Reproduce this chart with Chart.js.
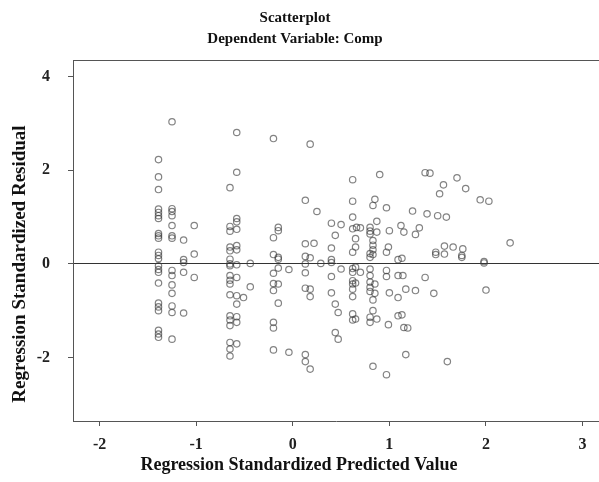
<!DOCTYPE html>
<html>
<head>
<meta charset="utf-8">
<script src="https://cdn.jsdelivr.net/npm/chart.js@4.4.1/dist/chart.umd.min.js"></script>
<style>
  html, body { margin: 0; padding: 0; background: #fff; }
  #wrap { width: 599px; height: 482px; }
</style>
</head>
<body>
<div id="wrap"><canvas id="chart" width="599" height="482"></canvas></div>
<script>
// Regression standardized predicted value (x) and residual (y)
const predicted = [
  -1.39, -1.39, -1.39, -1.39, -1.39, -1.39, -1.39, -1.39, -1.39, -1.39, -1.39, -1.39,
  -1.39, -1.39, -1.39, -1.39, -1.39, -1.39, -1.39, -1.39, -1.39, -1.39, -1.39,
  -1.25, -1.25, -1.25, -1.25, -1.25, -1.25, -1.25, -1.25, -1.25, -1.25, -1.25, -1.25, -1.25, -1.25,
  -1.13, -1.13, -1.13, -1.13, -1.13,
  -1.02, -1.02, -1.02,
  -0.65, -0.65, -0.65, -0.65, -0.65, -0.65, -0.65, -0.65, -0.65, -0.65, -0.65, -0.65,
  -0.65, -0.65, -0.65, -0.65, -0.65, -0.65,
  -0.58, -0.58, -0.58, -0.58, -0.58, -0.58, -0.58, -0.58, -0.58, -0.58, -0.58, -0.58, -0.58, -0.58,
  -0.51, -0.44, -0.44,
  -0.20, -0.20, -0.20, -0.20, -0.20, -0.20, -0.20, -0.20, -0.20,
  -0.15, -0.15, -0.15, -0.15, -0.15, -0.15, -0.15,
  -0.04, -0.04,
  0.13, 0.13, 0.13, 0.13, 0.13, 0.13, 0.13, 0.13,
  0.18, 0.18, 0.18, 0.18, 0.18,
  0.22, 0.25, 0.29,
  0.40, 0.40, 0.40, 0.40, 0.40, 0.40,
  0.44, 0.44, 0.44, 0.47, 0.47, 0.50, 0.50,
  0.62, 0.62, 0.62, 0.62, 0.62, 0.62, 0.62, 0.62, 0.62, 0.62, 0.62, 0.62, 0.62,
  0.65, 0.65, 0.65, 0.65, 0.65, 0.66, 0.70, 0.70,
  0.80, 0.80, 0.80, 0.80, 0.80, 0.80, 0.80, 0.80, 0.80, 0.80, 0.80, 0.80,
  0.83, 0.83, 0.83, 0.83, 0.83, 0.83, 0.83, 0.83,
  0.85, 0.85, 0.85, 0.87, 0.87, 0.87, 0.90,
  0.97, 0.97, 0.97, 0.97, 0.97, 0.99, 0.99, 1.00, 1.00,
  1.09, 1.09, 1.09, 1.09, 1.12, 1.13, 1.13, 1.14, 1.15, 1.15, 1.17, 1.17, 1.19,
  1.24, 1.27, 1.27, 1.31, 1.37, 1.37, 1.39, 1.42, 1.46, 1.48, 1.48, 1.50, 1.52, 1.56,
  1.57, 1.57, 1.59, 1.60, 1.66, 1.70, 1.75, 1.75, 1.76, 1.79, 1.94, 1.98, 1.98, 2.00, 2.03, 2.25
];
const residual = [
  2.23, 1.86, 1.59, 1.17, 1.10, 1.03, 0.97, 0.65, 0.60, 0.55, 0.25, 0.18,
  0.11, -0.04, -0.12, -0.18, -0.41, -0.84, -0.92, -1.00, -1.42, -1.50, -1.57,
  3.04, 1.18, 1.12, 1.03, 0.82, 0.60, 0.55, -0.14, -0.25, -0.45, -0.63, -0.90, -1.04, -1.61,
  0.51, 0.09, 0.03, -0.18, -1.05,
  0.82, 0.21, -0.29,
  1.63, 0.80, 0.70, 0.36, 0.28, 0.10, 0.00, -0.04, -0.25, -0.35, -0.43, -0.66,
  -1.11, -1.20, -1.32, -1.68, -1.82, -1.97,
  2.81, 1.96, 0.97, 0.90, 0.74, 0.39, 0.30, -0.02, -0.29, -0.68, -0.86, -1.13, -1.25, -1.71,
  -0.72, 0.01, -0.49,
  2.68, 0.56, 0.20, -0.20, -0.42, -0.57, -1.25, -1.37, -1.84,
  0.78, 0.71, 0.14, 0.10, -0.09, -0.43, -0.84,
  -0.12, -1.89,
  1.36, 0.43, 0.16, 0.00, -0.19, -0.52, -1.94, -2.09,
  2.56, 0.13, -0.54, -0.70, -2.25,
  0.44, 1.12, 0.01,
  0.87, 0.34, 0.09, 0.03, -0.27, -0.62,
  0.61, -0.86, -1.47, -1.04, -1.61, 0.84, -0.11,
  1.80, 1.34, 1.00, 0.75, 0.25, -0.10, -0.18, -0.36, -0.43, -0.54, -0.70, -1.07, -1.20,
  0.54, 0.36, -0.07, -0.41, -1.18, 0.78, 0.77, -0.18,
  0.78, 0.70, 0.64, 0.22, 0.14, -0.11, -0.25, -0.39, -0.50, -0.59, -1.14, -1.25,
  1.25, 0.50, 0.40, 0.30, 0.20, -0.77, -1.00, -2.19,
  1.38, -0.43, -0.63, 0.91, 0.68, -1.18, 1.91,
  1.20, 0.25, -0.14, -0.27, -2.37, 0.36, -1.30, 0.71, -0.62,
  0.09, -0.25, -0.72, -1.11, 0.82, 0.12, -1.09, -0.25, 0.68, -1.36, -0.54, -1.94, -1.37,
  1.13, 0.63, -0.57, 0.77, 1.95, -0.29, 1.07, 1.94, -0.63, 0.25, 0.20, 1.03, 1.50, 1.69,
  0.38, 0.21, 1.00, -2.09, 0.36, 1.84, 0.18, 0.14, 0.32, 1.61, 1.37, 0.02, 0.05, -0.56, 1.34, 0.45
];
const xTicks = [-2, -1, 0, 1, 2, 3];
const yTicks = [-2, 0, 2, 4];
const titleLines = ["Scatterplot", "Dependent Variable: Comp"];
const xTitle = "Regression Standardized Predicted Value";
const yTitle = "Regression Standardized Residual";

const serif = '"Liberation Serif", "DejaVu Serif", serif';

// frame top edge + titles
const frameText = {
    id: "frameText",
    afterDraw(chart) {
        const { ctx, chartArea } = chart;
        ctx.save();
        ctx.strokeStyle = "#555";
        ctx.lineWidth = 1;
        ctx.beginPath();
        ctx.moveTo(chartArea.left, chartArea.top + 0.5);
        ctx.lineTo(chartArea.right, chartArea.top + 0.5);
        ctx.stroke();

        ctx.fillStyle = "#111";
        ctx.textAlign = "center";
        ctx.textBaseline = "middle";
        ctx.font = "bold 15px " + serif;
        ctx.fillText(titleLines[0], 295, 18);
        ctx.fillText(titleLines[1], 295, 39);

        ctx.font = "bold 18px " + serif;
        ctx.fillText(xTitle, 299, 465);
        ctx.font = "bold 19px " + serif;
        ctx.translate(20, 264);
        ctx.rotate(-Math.PI / 2);
        ctx.fillText(yTitle, 0, 0);
        ctx.restore();
    }
};

const points = predicted.map((x, i) => ({ x: x, y: residual[i] }));

new Chart(document.getElementById("chart"), {
    type: "scatter",
    data: {
        datasets: [{
            data: points,
            pointRadius: 3.2,
            pointHoverRadius: 3.2,
            pointBorderWidth: 1.2,
            borderColor: "rgba(55, 55, 55, 0.62)",
            backgroundColor: "rgba(0, 0, 0, 0)"
        }]
    },
    options: {
        responsive: false,
        animation: false,
        events: [],
        layout: { autoPadding: false, padding: { top: 60, left: 0, right: 0, bottom: 0 } },
        plugins: {
            legend: { display: false },
            tooltip: { enabled: false },
            title: { display: false }
        },
        scales: {
            x: {
                type: "linear",
                min: -2.275,
                max: 3.17,
                afterBuildTicks: s => { s.ticks = xTicks.map(v => ({ value: v })); },
                afterFit: s => { s.height = 61; },
                border: { color: "#555", width: 1 },
                grid: { drawOnChartArea: false, tickLength: 5, tickColor: "#555" },
                ticks: {
                    color: "#222",
                    padding: 9,
                    maxRotation: 0,
                    font: { family: serif, size: 16, weight: "bold" }
                }
            },
            y: {
                type: "linear",
                min: -3.36,
                max: 4.36,
                afterBuildTicks: s => { s.ticks = yTicks.map(v => ({ value: v })); },
                afterFit: s => { s.width = 73; },
                border: { color: "#555", width: 1 },
                grid: {
                    tickLength: 5,
                    tickColor: "#555",
                    lineWidth: 1,
                    color: c => (c.tick && c.tick.value === 0) ? "#333" : "rgba(0, 0, 0, 0)"
                },
                ticks: {
                    color: "#222",
                    padding: 18,
                    font: { family: serif, size: 16, weight: "bold" }
                }
            }
        }
    },
    plugins: [frameText]
});
</script>
</body>
</html>
